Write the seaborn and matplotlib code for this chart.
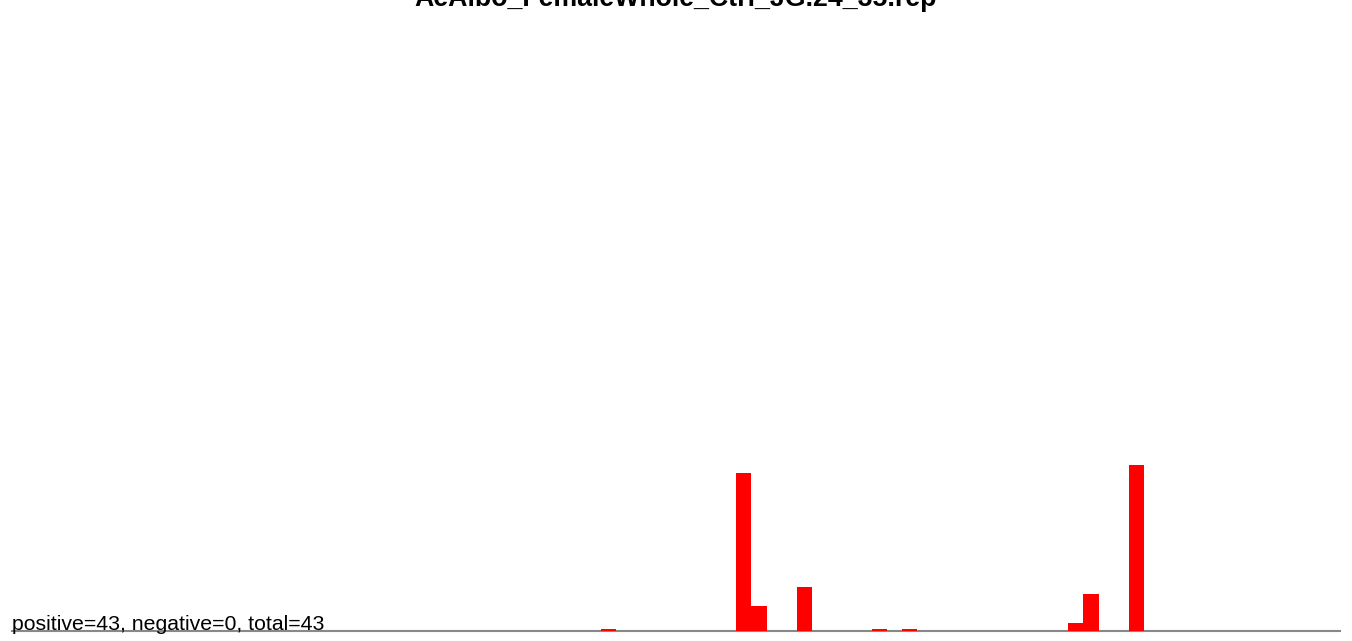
import numpy as np
import pandas as pd
import matplotlib
matplotlib.use("Agg")
import matplotlib.pyplot as plt
import seaborn as sns

title = "AeAlbo_FemaleWhole_Ctrl_JG.24_35.rep"
summary = "positive=43, negative=0, total=43"

n_bins = 88
# non-empty bins and their heights (percent of plot height)
bin_idx = [39, 48, 49, 52, 57, 59, 70, 71, 74]
bin_val = [0.4, 26.3, 4.2, 7.3, 0.4, 0.4, 1.3, 6.2, 27.7]

vals = np.zeros(n_bins)
vals[bin_idx] = bin_val
df = pd.DataFrame({"bin": np.arange(n_bins), "value": vals})

sns.set_style("white")
plt.rcParams["font.family"] = ["Liberation Sans", "DejaVu Sans"]

fig = plt.figure(figsize=(13.52, 6.41), dpi=100)
ax = fig.add_axes([12 / 1352, 10 / 641, 1328 / 1352, 600 / 641])

sns.barplot(data=df, x="bin", y="value", color="#ff0000", saturation=1,
            width=1.0, linewidth=0, ax=ax)
for p in ax.patches:
    p.set_zorder(3)
ax.set_xlim(-0.5, n_bins - 0.5)
ax.set_ylim(0, 100)

for s in ["top", "left", "right"]:
    ax.spines[s].set_visible(False)
ax.spines["bottom"].set_color("#888888")
ax.spines["bottom"].set_linewidth(1.5)
ax.set_xticks([])
ax.set_yticks([])
ax.set_xlabel("")
ax.set_ylabel("")

fig.text(676 / 1352, 1 - 6 / 641, title, ha="center", va="baseline",
         fontsize=19.3, fontweight="bold", color="black")
fig.text(12 / 1352, 1 - 630 / 641, summary, ha="left", va="baseline",
         fontsize=15.3, color="black")

fig.savefig("out.png", dpi=100)
